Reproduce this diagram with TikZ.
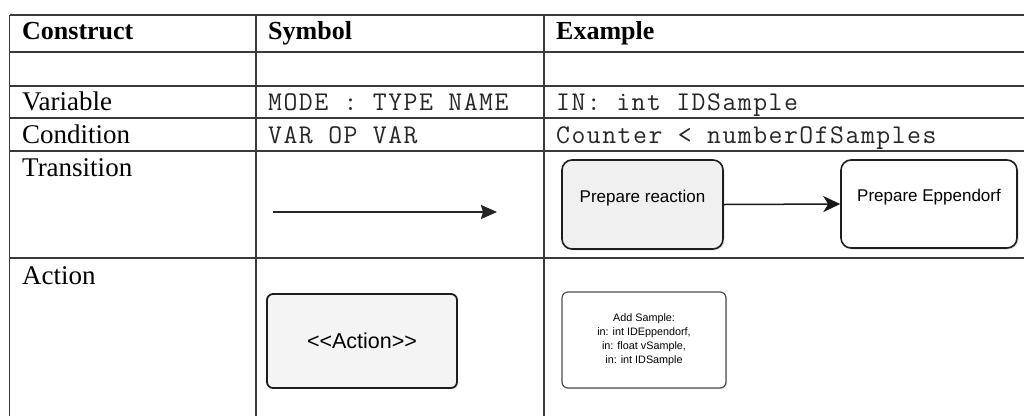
\documentclass[tikz,border=0pt]{standalone}
\usepackage{fontspec}
\setmainfont{Liberation Serif}
\setsansfont{Liberation Sans}
\setmonofont{Latin Modern Mono}[LetterSpace=5.5]
\usetikzlibrary{arrows.meta,shadows}
\definecolor{gridc}{HTML}{3A3A3A}
\definecolor{boxfill}{HTML}{F0F0F0}
\definecolor{actfill}{HTML}{F4F4F4}
\definecolor{boxline}{HTML}{1E1E1E}
\begin{document}
\begin{tikzpicture}[x=1pt,y=-1pt,
  gridline/.style={draw=gridc, line width=1.3pt},
  hdr/.style={anchor=base west, inner sep=0pt, font=\fontsize{26}{30}\selectfont\bfseries},
  cell/.style={anchor=base west, inner sep=0pt, font=\fontsize{27}{31}\selectfont},
  code/.style={anchor=base west, inner sep=0pt, text=black!85, font=\fontsize{27}{31}\selectfont\ttfamily},
  flowbox/.style={draw=boxline, line width=1.6pt, rounded corners=10pt, inner sep=0pt,
     font=\fontsize{17}{20}\selectfont\sffamily, text height=12.2pt, text depth=16.6pt,
     drop shadow={shadow xshift=1.5pt, shadow yshift=-1.5pt, opacity=0.25}},
  actionbox/.style={draw=boxline, line width=1.8pt, rounded corners=6pt, inner sep=0pt,
     fill=actfill, font=\fontsize{21.5}{25}\selectfont\sffamily},
  samplebox/.style={draw=gridc!90, line width=1.2pt, rounded corners=6pt, inner sep=0pt,
     fill=white, align=center, font=\fontsize{10.8}{14}\selectfont\sffamily,
     drop shadow={shadow xshift=1.2pt, shadow yshift=-1.2pt, opacity=0.25}},
  flowarrow/.style={draw=black!90, line width=1.5pt, -{Stealth[length=17pt,width=16pt,inset=5pt]}},
  symarrow/.style={draw=black!85, line width=2pt, -{Stealth[length=16pt,width=14pt,inset=2pt]}}
]
\useasboundingbox (0,0) rectangle (1024,416);
\fill[white] (0,0) rectangle (1024,416);

% table grid
\foreach \yy in {15,52,86,118,151,258}{
  \draw[gridline] (9.7,\yy) -- (1024,\yy);
}
\foreach \xx in {9.7,256,544}{
  \draw[gridline] (\xx,15) -- (\xx,416);
}

% header
\node[hdr] (hc) at (22,39) {Construct};
\node[hdr] (hs) at (268,39) {Symbol};
\node[hdr] (he) at (556,39) {Example};

% rows
\node[cell] (cvar) at (22,110) {Variable};
\node[code] (svar) at (268,110) {MODE : TYPE NAME};
\node[code] (evar) at (556,110) {IN: int IDSample};

\node[cell] (ccond) at (22,143) {Condition};
\node[code] (scond) at (268,143) {VAR OP VAR};
\node[code] (econd) at (556,143) {Counter < numberOfSamples};

\node[cell] (ctrans) at (22,176) {Transition};
\node[cell] (cact) at (22,284) {Action};

% transition symbol
\coordinate (ts) at (273,212);
\coordinate (te) at (497,212);
\draw[symarrow] (ts) -- (te);

% transition example
\node[flowbox, fill=boxfill, minimum width=161pt, minimum height=89pt] (pr) at (642.5,204.5) {Prepare reaction};
\node[flowbox, fill=white, minimum width=176pt, minimum height=88pt] (pe) at (929,204) {Prepare Eppendorf};
\draw[flowarrow] (pr.east) -- (pe.west);

% action symbol
\node[actionbox, minimum width=190pt, minimum height=94pt] (act) at (362,341) {<{}<Action>{}>};

% action example
\node[samplebox, minimum width=164pt, minimum height=96pt] (add) at (644,340)
  {Add Sample:\\in: int IDEppendorf,\\in: float vSample,\\in: int IDSample};
\end{tikzpicture}
\end{document}
